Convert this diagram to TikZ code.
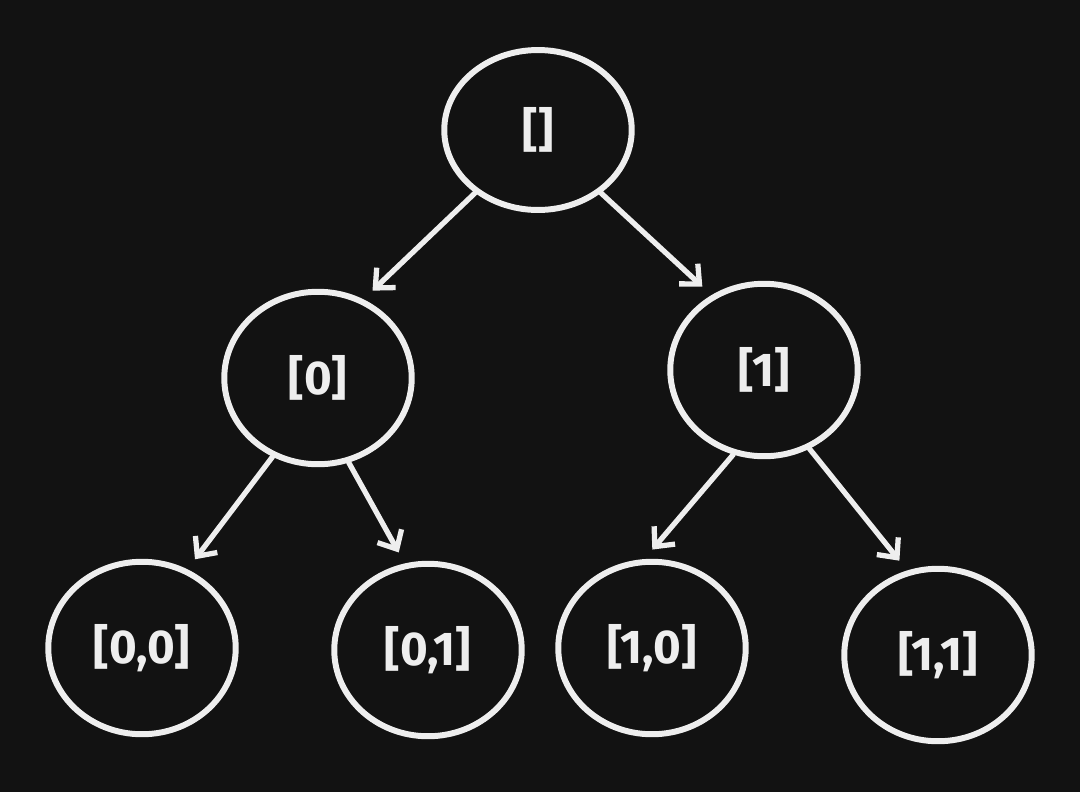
\documentclass[tikz,border=0pt]{standalone}
\usepackage{fontspec}
\setmainfont{Fira Sans}
\usetikzlibrary{shapes.geometric,arrows.meta}
\definecolor{bgdark}{HTML}{121212}
\definecolor{chalk}{HTML}{EEEEEE}
\tikzset{
state/.style={
  draw=chalk,line width=3.4pt,ellipse,text=chalk,
  minimum width=3.75cm,minimum height=3.45cm,font=\bfseries\fontsize{27}{30}\selectfont},
edge/.style={
  draw=chalk,line width=3pt,line cap=round,shorten >=0.25cm,
  -{Straight Barb[length=0.3cm,width=0.55cm,line width=3pt]}}
}
\begin{document}
\begin{tikzpicture}[x=0.02cm,y=-0.02cm]
\fill[bgdark] (0,0) rectangle (1080,792);
\useasboundingbox (0,0) rectangle (1080,792);

\node[state,minimum height=3.2cm] (root) at (538,130) {[]};
\node[state] (n0) at (318,378) {[0]};
\node[state] (n1) at (764,370) {[1]};
\node[state] (n00) at (142,648) {[0,0]};
\node[state] (n01) at (428,650) {[0,1]};
\node[state] (n10) at (652,648) {[1,0]};
\node[state] (n11) at (938,655) {[1,1]};

\draw[edge] (root.225) -- (n0.60);
\draw[edge] (root.-45) -- (n1.125);
\draw[edge] (n0.240) -- (n00.60);
\draw[edge] (n0.290) -- (n01.105);
\draw[edge] (n1.250) -- (n10.95);
\draw[edge] (n1.300) -- (n11.110);
\end{tikzpicture}
\end{document}
